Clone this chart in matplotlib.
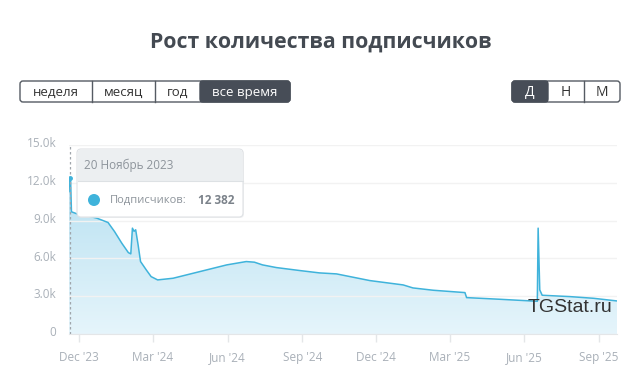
import matplotlib
matplotlib.use("Agg")
import matplotlib.pyplot as plt
import matplotlib.dates as mdates
import matplotlib.transforms as mtransforms
from matplotlib.patches import FancyBboxPatch, Rectangle, Circle
import numpy as np
import pandas as pd

plt.rcParams['font.family'] = ['Open Sans', 'DejaVu Sans']

# subscriber counts
dates = ["2023-11-19", "2023-11-20", "2023-11-21", "2023-11-22", "2023-12-02",
         "2023-12-08", "2023-12-10", "2023-12-23", "2024-01-06", "2024-01-14",
         "2024-01-23", "2024-01-31", "2024-02-03", "2024-02-05", "2024-02-07",
         "2024-02-09", "2024-02-12", "2024-02-15", "2024-02-22", "2024-02-28",
         "2024-03-07", "2024-03-26", "2024-04-28", "2024-05-31", "2024-06-24",
         "2024-07-04", "2024-07-14", "2024-07-31", "2024-08-29", "2024-09-22",
         "2024-10-13", "2024-11-23", "2025-01-03", "2025-01-15", "2025-02-09",
         "2025-03-20", "2025-03-22", "2025-05-02", "2025-06-17", "2025-06-18",
         "2025-06-20", "2025-06-23", "2025-07-27", "2025-08-25", "2025-09-23"]
subs = [11300, 12382, 12200, 9700, 9460,
        9600, 9400, 9200, 8850, 8130,
        7200, 6460, 6360, 8400, 8150,
        8270, 7075, 5750, 5090, 4555,
        4293, 4425, 4955, 5485, 5750,
        5700, 5485, 5273, 5035, 4850,
        4770, 4240, 3895, 3657, 3472,
        3286, 2888, 2756, 2597, 8400,
        3500, 3074, 2968, 2835, 2623]

yticks = [0, 3000, 6000, 9000, 12000, 15000]
ytick_labels = ["0", "3.0k", "6.0k", "9.0k", "12.0k", "15.0k"]
xticks = ["2023-12-01", "2024-03-01", "2024-06-01", "2024-09-01",
          "2024-12-01", "2025-03-01", "2025-06-01", "2025-09-01"]
xtick_labels = ["Dec '23", "Mar '24", "Jun '24", "Sep '24",
                "Dec '24", "Mar '25", "Jun '25", "Sep '25"]

periods = ["неделя", "месяц", "год", "все время"]
scales = ["Д", "Н", "М"]

x = pd.to_datetime(dates)
W, H = 643, 389
fig = plt.figure(figsize=(W / 100, H / 100), dpi=100)
fig.patch.set_facecolor("white")

# axes: x 69..617 px, y 145..334 px
ax = fig.add_axes([69 / W, 1 - 334 / H, (617 - 69) / W, (334 - 145) / H])

line_c = "#3fb3db"
xn = mdates.date2num(x)
# gradient fill under the line
grad = np.linspace(0.0, 1.0, 256).reshape(-1, 1)
top_c = np.array([0.72, 0.88, 0.945])
bot_c = np.array([0.90, 0.96, 0.985])
img = top_c * (1 - grad[..., None]) + bot_c * grad[..., None]
im = ax.imshow(img, extent=[xn[0], xn[-1], 0, 12500], aspect="auto",
               origin="upper", zorder=1)
poly = ax.fill_between(x, 0, subs, color="none", lw=0)
im.set_clip_path(poly.get_paths()[0], transform=ax.transData)
ax.set_xlim(pd.Timestamp("2023-11-19"), pd.Timestamp("2025-09-23"))
ax.set_ylim(0, 15000)
ax.plot(x, subs, color=line_c, lw=1.1, zorder=3)

ax.set_yticks(yticks)
ax.set_yticklabels(ytick_labels)
ax.set_xticks(pd.to_datetime(xticks))
ax.set_xticklabels(xtick_labels)
ax.grid(axis="y", color="#f2f2f2", lw=1, zorder=0)
ax.tick_params(axis="y", length=0, pad=9, labelsize=8.5, labelcolor="#a9b0b8")
ax.tick_params(axis="x", length=6, width=1, color="#e4e6e8", pad=6,
               labelsize=8.5, labelcolor="#a9b0b8")
for s in ["top", "right", "left"]:
    ax.spines[s].set_visible(False)
ax.spines["bottom"].set_color("#e4e6e8")
ax.set_facecolor("white")
shift = mtransforms.ScaledTranslation(0, 2 / 72, fig.dpi_scale_trans)
for lab in ax.get_yticklabels():
    lab.set_transform(lab.get_transform() + shift)

# hover marker line at 20 Nov 2023
ax.axvline(pd.Timestamp("2023-11-20"), color="#a0a6ac", lw=0.9, ls=(0, (2, 2)), zorder=4)
ax.plot([pd.Timestamp("2023-11-20")], [12382], marker="o", ms=2.5, color=line_c, zorder=5)

ax.text(0.991, 0.138, "TGStat.ru", transform=ax.transAxes, ha="right", va="center",
        fontsize=14, color="#333333", family=["Liberation Sans", "DejaVu Sans"], zorder=6)

# overlay in pixel coordinates
ov = fig.add_axes([0, 0, 1, 1])
ov.set_xlim(0, W)
ov.set_ylim(H, 0)
ov.axis("off")
ov.patch.set_alpha(0)

ov.text(321, 42, "Рост количества подписчиков", ha="center", va="center",
        fontsize=15.3, fontweight="bold", color="#444a52")

# period buttons
edges = [20, 92, 155, 200, 290]
dark = "#474d57"
ov.add_patch(FancyBboxPatch((20, 81), 270, 21, boxstyle="round,pad=0,rounding_size=3",
                            fc="white", ec="#555b63", lw=1))
ov.add_patch(FancyBboxPatch((200, 81), 90, 21, boxstyle="round,pad=0,rounding_size=3",
                            fc=dark, ec=dark, lw=1))
ov.add_patch(Rectangle((200, 81), 6, 21, fc=dark, ec="none"))
for i, p in enumerate(periods):
    cx = (edges[i] + edges[i + 1]) / 2
    if 0 < i < len(periods) - 1:
        ov.plot([edges[i], edges[i]], [81, 102], color="#555b63", lw=1)
    ov.text(cx, 92, p, ha="center", va="center", fontsize=9.5,
            color="white" if i == 3 else "#333333")

sedges = [512, 548, 584, 620]
ov.add_patch(FancyBboxPatch((512, 81), 108, 21, boxstyle="round,pad=0,rounding_size=3",
                            fc="white", ec="#555b63", lw=1))
ov.add_patch(FancyBboxPatch((512, 81), 36, 21, boxstyle="round,pad=0,rounding_size=3",
                            fc=dark, ec=dark, lw=1))
ov.add_patch(Rectangle((542, 81), 6, 21, fc=dark, ec="none"))
ov.plot([584, 584], [81, 102], color="#555b63", lw=1)
for i, s in enumerate(scales):
    cx = (sedges[i] + sedges[i + 1]) / 2
    ov.text(cx, 92, s, ha="center", va="center", fontsize=10,
            color="white" if i == 0 else "#333333")

# tooltip
ov.add_patch(FancyBboxPatch((78, 150), 166, 68, boxstyle="round,pad=0,rounding_size=4",
                            fc="#e6e8ea", ec="none", alpha=0.6, zorder=7))
ov.add_patch(FancyBboxPatch((77, 149), 166, 68, boxstyle="round,pad=0,rounding_size=4",
                            fc="white", ec="#dfe2e5", lw=0.8, zorder=8))
ov.add_patch(FancyBboxPatch((77.5, 149.5), 165, 31.5, boxstyle="round,pad=0,rounding_size=4",
                            fc="#eceff1", ec="none", zorder=9))
ov.add_patch(Rectangle((77.5, 172), 165, 9, fc="#eceff1", ec="none", zorder=9))
ov.plot([77.5, 242.5], [181, 181], color="#dde1e4", lw=0.8, zorder=10)
ov.text(84, 165, "20 Ноябрь 2023", ha="left", va="center", fontsize=8.5,
        color="#8d949b", zorder=10)
ov.add_patch(Circle((94, 200), 6, fc=line_c, ec="none", zorder=10))
ov.text(110, 200, "Подписчиков:", ha="left", va="center", fontsize=8,
        color="#8d949b", zorder=10)
ov.text(234, 200, "12 382", ha="right", va="center", fontsize=8.5,
        fontweight="bold", color="#7b828a", zorder=10)

fig.savefig("out.png", dpi=100)
